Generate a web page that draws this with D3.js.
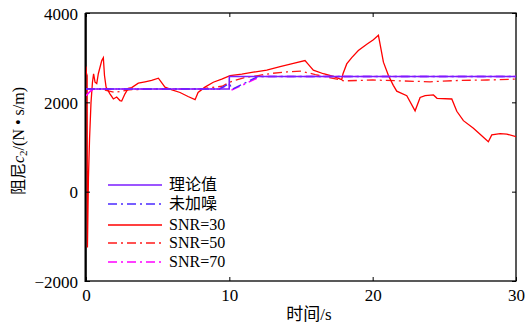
<!DOCTYPE html>
<html><head><meta charset="utf-8">
<script src="https://cdn.jsdelivr.net/npm/d3@7/dist/d3.min.js"></script>
<style>body{margin:0;background:#fff}svg{display:block}text{font-family:"Liberation Serif","Noto Sans CJK SC",serif}</style>
</head><body><svg id="c" width="526" height="324"></svg>
<script>
const xTicks = [0, 10, 20, 30];
const yTicks = [-2000, 0, 2000, 4000];
const seriesNames = ["理论值", "未加噪", "SNR=30", "SNR=50", "SNR=70"];

const theoryT = [0, 9.99, 10, 30];
const theoryV = [2300, 2300, 2580, 2580];

const cleanT = [0, 9.3, 10, 10.2, 12, 30];
const cleanV = [2300, 2300, 2420, 2290, 2580, 2580];

const snr30T = [0, 0.03, 0.08, 0.1, 0.17, 0.25, 0.35, 0.45, 0.53, 0.63, 0.75, 0.86, 1.1, 1.21, 1.29, 1.4, 1.67, 1.91, 2.14, 2.37, 2.49, 2.72, 2.95, 3.19, 3.65, 4.12, 4.58, 5.05, 5.51, 6.0, 6.56, 7.12, 7.61, 7.82, 8.3, 8.88, 9.47, 10.05, 10.87, 11.67, 12.61, 13.54, 14.47, 15.28, 15.51, 15.86, 16.56, 17.26, 17.84, 17.93, 18.19, 18.54, 19.0, 19.59, 20.05, 20.4, 20.52, 20.75, 21.1, 21.44, 21.68, 22.38, 22.96, 23.31, 23.66, 24.24, 24.49, 25.52, 25.87, 26.33, 27.03, 27.61, 28.07, 28.31, 28.89, 29.36, 30];
const snr30V = [2800, 2650, 2600, -1250, 300, 1200, 2000, 2450, 2640, 2450, 2420, 2640, 2935, 3000, 2600, 2340, 2190, 2075, 2120, 2040, 2030, 2190, 2315, 2330, 2430, 2460, 2490, 2540, 2340, 2280, 2220, 2130, 2060, 2220, 2340, 2450, 2520, 2600, 2630, 2675, 2720, 2800, 2870, 2935, 2850, 2720, 2640, 2580, 2510, 2640, 2860, 3000, 3160, 3300, 3400, 3500, 3300, 2900, 2600, 2380, 2250, 2150, 1810, 2110, 2150, 2165, 2090, 2075, 1800, 1590, 1420, 1250, 1117, 1270, 1300, 1290, 1230];

const snr50T = [0, 1, 2, 3, 5, 8, 9.5, 10, 11, 12, 13, 14, 15, 16, 17.5, 18, 20, 22, 24, 26, 28, 30];
const snr50V = [2300, 2300, 2220, 2280, 2300, 2300, 2360, 2450, 2550, 2600, 2650, 2680, 2700, 2620, 2520, 2480, 2500, 2480, 2460, 2490, 2500, 2520];

const snr70T = [0, 0.3, 0.6, 9.3, 10, 10.2, 12.2, 30];
const snr70V = [2150, 2250, 2300, 2300, 2400, 2280, 2580, 2580];

const svg = d3.select("#c");
const L = 86, R = 516, T = 13, B = 281;
const x = d3.scaleLinear().domain([0, 30]).range([L, R]);
const y = d3.scaleLinear().domain([-2000, 4000]).range([B, T]);

const dd = "9,4,2,4";
const cTheory = "#7b1cff", cClean = "#4b2bff";
const series = [
  {t: snr50T, v: snr50V, c: "#ff1a1a", dash: dd, w: 1.3},
  {t: snr30T, v: snr30V, c: "#ff0000", dash: null, w: 1.3},
  {t: snr70T, v: snr70V, c: "#ff00ff", dash: dd, w: 1.6},
  {t: cleanT, v: cleanV, c: cClean, dash: dd, w: 1.4},
  {t: theoryT, v: theoryV, c: cTheory, dash: null, w: 1.6}
];
const line = d3.line().x(d => x(d[0])).y(d => y(d[1]));
svg.append("defs").append("clipPath").attr("id", "clip").append("rect")
  .attr("x", L).attr("y", T).attr("width", R - L).attr("height", B - T);

// frame (drawn before data so the red curve near the left edge stays visible)
svg.append("rect").attr("x", L).attr("y", T).attr("width", R - L).attr("height", B - T)
  .attr("fill", "none").attr("stroke", "#000").attr("stroke-width", 1.3);
svg.append("line").attr("x1", L - 0.5).attr("x2", L - 0.5).attr("y1", T).attr("y2", B + 1)
  .attr("stroke", "#000").attr("stroke-width", 2);

const g = svg.append("g").attr("clip-path", "url(#clip)");
series.forEach(s => {
  g.append("path").attr("d", line(s.t.map((t, i) => [t, s.v[i]])))
    .attr("fill", "none").attr("stroke", s.c).attr("stroke-width", s.w)
    .attr("stroke-dasharray", s.dash);
});

// axes
const fs = 17;
const xb = svg.append("g").attr("transform", `translate(0,${B})`)
  .call(d3.axisBottom(x).tickValues(xTicks).tickSize(-4).tickPadding(8).tickFormat(d3.format("d")));
const xt = svg.append("g").attr("transform", `translate(0,${T})`)
  .call(d3.axisTop(x).tickValues(xTicks).tickSize(-4).tickFormat(""));
const yl = svg.append("g").attr("transform", `translate(${L},0)`)
  .call(d3.axisLeft(y).tickValues(yTicks).tickSize(-4).tickPadding(8).tickFormat(d => d < 0 ? "\u22122000" : d));
const yr = svg.append("g").attr("transform", `translate(${R},0)`)
  .call(d3.axisRight(y).tickValues(yTicks).tickSize(-4).tickFormat(""));
[xb, xt, yl, yr].forEach(a => {
  a.select(".domain").remove();
  a.selectAll("line").attr("stroke", "#000").attr("stroke-width", 1);
  a.selectAll("text").attr("font-size", fs).attr("fill", "#000")
    .attr("font-family", "Liberation Serif");
});
yl.selectAll("text").attr("dy", "0.36em");
xb.selectAll("text").attr("dy", "0.71em");

// axis titles
svg.append("text").attr("x", 309).attr("y", 320).attr("text-anchor", "middle")
  .attr("font-size", fs).text("时间/s");
const yt = svg.append("text").attr("transform", "translate(24,141) rotate(-90)")
  .attr("text-anchor", "middle").attr("font-size", 16);
yt.append("tspan").text("阻尼");
yt.append("tspan").attr("font-style", "italic").text("c");
yt.append("tspan").attr("font-size", 11).attr("dy", 3).text("2");
yt.append("tspan").attr("dy", -3).text("/(N • s/m)");

// legend
const legY = [185, 204, 225, 243, 262];
const legStyles = [
  {c: cTheory, dash: null},
  {c: cClean, dash: dd},
  {c: "#ff0000", dash: null},
  {c: "#ff1a1a", dash: dd},
  {c: "#ff00ff", dash: dd}
];
seriesNames.forEach((n, i) => {
  svg.append("line").attr("x1", 108).attr("x2", 162).attr("y1", legY[i]).attr("y2", legY[i])
    .attr("stroke", legStyles[i].c).attr("stroke-width", 1.4).attr("stroke-dasharray", legStyles[i].dash);
  svg.append("text").attr("x", 169).attr("y", legY[i]).attr("dy", "0.34em")
    .attr("font-size", 16).text(n);
});
</script></body></html>
